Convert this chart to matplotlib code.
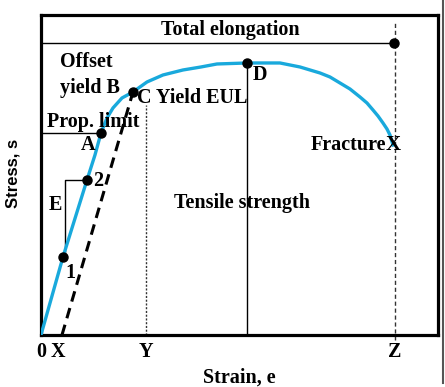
import matplotlib.pyplot as plt
from matplotlib.lines import Line2D

# stress-strain curve (arbitrary units)
strain = [0, 22, 46, 54, 60, 66, 72, 81, 92, 106, 122, 142, 160, 176, 206,
          239, 249, 259, 269, 279, 289, 299, 309, 319, 326, 332, 337, 342, 346, 349, 352]
stress = [0, 78, 155, 180, 202, 217, 227, 237, 243, 253, 260, 265, 268, 271, 272,
          272, 270, 268, 265, 262, 258, 252, 246, 238, 232, 225, 219, 212, 206, 200, 190]

# marked points
pt1 = (22, 78)
pt2 = (46, 155)
ptA = (60, 202)
ptB = (92, 243)
ptD = (206, 272)
fracture = (352, 190)
total_el = (353, 292)

# offset line start (X) and strain marks
x_offset = 21
x_yield = 105
x_fracture = 354
tick_pos = [0, 17, 105, 354]
tick_labels = ['0', 'X', 'Y', 'Z']

serif = {'family': 'Liberation Serif', 'weight': 'bold', 'size': 14.5}

fig = plt.figure(figsize=(4.45, 3.87), dpi=100)
ax = fig.add_axes([0.0921, 0.1344, 0.8921, 0.8269])
ax.set_xlim(0, 397)
ax.set_ylim(0, 320)

blue = '#19a9dc'
ax.plot(strain, stress, color=blue, lw=2.4, zorder=3, solid_joinstyle='round')

# offset (dashed) line
ax.plot([x_offset, ptB[0]], [0, ptB[1]], color='black', lw=2.2, ls=(0, (3.5, 2.2)), zorder=2)

# construction lines
ax.plot([x_yield, x_yield], [0, 230], color='#333333', lw=1, ls=(0, (1.5, 1.2)))
ax.plot([ptD[0], ptD[0]], [0, ptD[1]], color='black', lw=1)
ax.plot([x_fracture, x_fracture], [-5, 313], color='#333333', lw=1, ls=(0, (3, 2)), clip_on=False)
ax.plot([0, total_el[0]], [total_el[1], total_el[1]], color='black', lw=1)
ax.plot([0, ptA[0]], [ptA[1], ptA[1]], color='black', lw=1)
ax.plot([24, 24, pt2[0]], [pt1[1], pt2[1], pt2[1]], color='black', lw=1)

# dots
for p in [pt1, pt2, ptA, ptB, ptD, total_el]:
    ax.plot(p[0], p[1], 'o', color='black', ms=6.5, zorder=4)

ax.text(fracture[0], fracture[1], 'X', ha='center', va='center', zorder=5,
        fontdict=dict(serif, size=15))

# labels
ax.text(189, 305, 'Total elongation', ha='center', va='center', fontdict=serif)
ax.text(19, 273, 'Offset', ha='left', va='center', fontdict=serif)
ax.text(19, 247, 'yield B', ha='left', va='center', fontdict=serif)
ax.text(96, 237, 'C Yield EUL', ha='left', va='center', fontdict=serif)
ax.text(6, 213, 'Prop. limit', ha='left', va='center', fontdict=serif)
ax.text(47, 190, 'A', ha='center', va='center', fontdict=serif)
ax.text(57, 154, '2', ha='center', va='center', fontdict=serif)
ax.text(14, 130, 'E', ha='center', va='center', fontdict=serif)
ax.text(29, 62, '1', ha='center', va='center', fontdict=serif)
ax.text(219, 260, 'D', ha='center', va='center', fontdict=serif)
ax.text(345, 190, 'Fracture', ha='right', va='center', fontdict=serif)
ax.text(201, 132, 'Tensile strength', ha='center', va='center', fontdict=serif)

ax.set_xticks(tick_pos)
ax.set_xticklabels(tick_labels, fontdict=serif)
ax.set_yticks([])
ax.tick_params(axis='x', length=0, pad=5)
ax.set_xlabel('Strain, e', fontdict=serif, labelpad=4)
fig.text(0.03, 0.553, 'Stress, s', rotation=90, ha='center', va='center',
         family='Liberation Sans', weight='bold', size=12)

for s in ax.spines.values():
    s.set_linewidth(2.3)

# image border line on the right
fig.add_artist(Line2D([443 / 445, 443 / 445], [0.01, 1], color='#555555', lw=1.5))

fig.savefig('out.png', dpi=100)
